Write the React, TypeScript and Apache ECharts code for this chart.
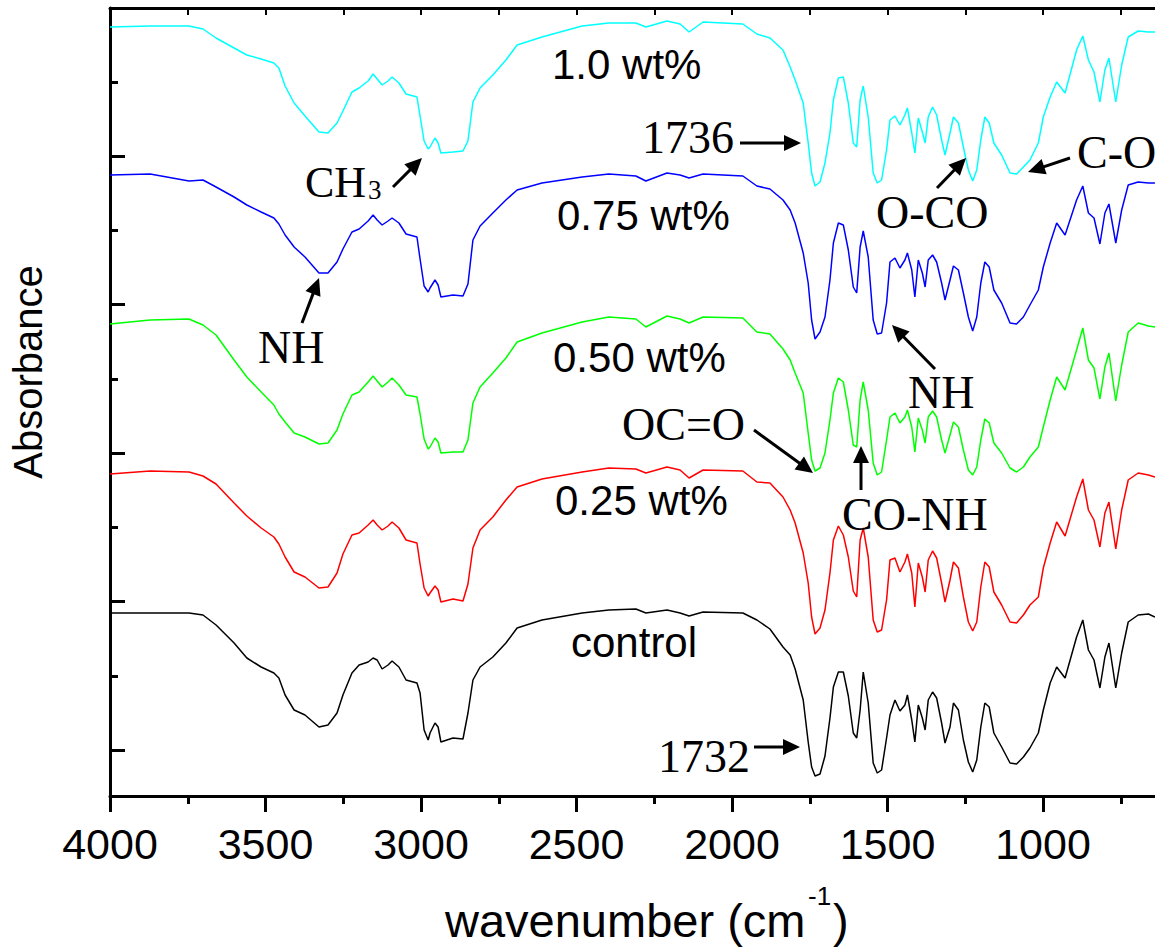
import React, { useEffect, useRef } from "react";
import * as echarts from "echarts";

// Shared wavenumber grid (cm^-1)
const wavenumbers = [
  4000, 3871, 3746, 3701, 3659, 3601, 3560, 3514, 3473, 3457,
  3437, 3408, 3373, 3328, 3299, 3270, 3251, 3222, 3199, 3170,
  3154, 3141, 3125, 3106, 3093, 3071, 3048, 3013, 3003, 2990,
  2977, 2971, 2955, 2945, 2936, 2897, 2865, 2849, 2833, 2810,
  2769, 2727, 2691, 2611, 2482, 2396, 2309, 2277, 2209, 2167,
  2138, 2093, 1965, 1920, 1878, 1836,
  1813, 1797, 1771, 1755, 1744, 1733, 1717, 1701, 1685, 1674,
  1658, 1642, 1626, 1610, 1599, 1588, 1578, 1562, 1546, 1533,
  1519, 1503, 1492, 1476, 1460, 1444, 1436, 1422, 1412, 1401,
  1388, 1379, 1369, 1355, 1342, 1326, 1315, 1299, 1288, 1272,
  1256, 1240, 1226, 1213, 1200, 1187, 1173, 1158, 1133, 1106,
  1085, 1063, 1042, 1015, 999, 977, 956, 929, 892, 872,
  854, 836, 817, 801, 788, 766, 747, 726, 694, 661,
  640,
];

// Absorbance (arbitrary units, traces offset for clarity)
const control = [
  183, 183, 183, 181, 171, 153, 138, 129, 123, 118,
  101, 86, 81, 69, 71, 83, 101, 123, 131, 134,
  138, 136, 127, 131, 135, 129, 116, 113, 103, 66,
  56, 63, 73, 69, 54, 58, 57, 83, 116, 129,
  139, 153, 168, 176, 183, 186, 187, 183, 186, 183,
  180, 184, 183, 176, 167, 149,
  141, 127, 96, 54, 29, 20, 22, 40, 78, 109,
  124, 124, 100, 63, 58, 86, 124, 93, 33, 23,
  26, 58, 81, 96, 85, 91, 101, 76, 54, 91,
  78, 66, 96, 104, 98, 73, 53, 69, 93, 86,
  56, 34, 24, 36, 69, 93, 89, 63, 49, 33,
  32, 39, 48, 63, 86, 113, 129, 118, 159, 176,
  146, 136, 108, 139, 153, 108, 143, 174, 181, 182,
  179,
];

const wt025 = [
  322, 325, 324, 320, 312, 293, 280, 268, 259, 252,
  239, 224, 219, 208, 209, 223, 242, 261, 263, 271,
  276, 271, 266, 270, 274, 268, 256, 253, 232, 208,
  200, 203, 210, 206, 194, 197, 195, 212, 248, 266,
  279, 296, 309, 317, 324, 328, 327, 323, 329, 326,
  318, 326, 325, 314, 313, 299,
  286, 273, 243, 213, 179, 162, 168, 186, 223, 256,
  270, 261, 239, 205, 199, 256, 268, 239, 176, 164,
  166, 196, 236, 238, 224, 234, 242, 223, 189, 233,
  219, 204, 236, 245, 238, 213, 194, 216, 234, 228,
  199, 174, 165, 174, 209, 234, 229, 204, 191, 174,
  173, 181, 191, 199, 228, 253, 274, 260, 299, 317,
  286, 276, 249, 283, 294, 247, 286, 316, 323, 321,
  319,
];

const wt050 = [
  472, 476, 477, 471, 461, 436, 419, 404, 391, 382,
  374, 363, 359, 352, 353, 366, 382, 401, 404, 414,
  420, 415, 409, 414, 418, 411, 401, 399, 382, 357,
  347, 349, 358, 354, 343, 344, 344, 356, 393, 409,
  423, 438, 454, 463, 474, 479, 477, 469, 480, 477,
  473, 479, 478, 464, 462, 447,
  436, 423, 403, 363, 336, 325, 328, 343, 376, 403,
  418, 414, 386, 351, 349, 396, 414, 386, 333, 321,
  324, 356, 379, 383, 373, 379, 386, 369, 344, 378,
  366, 353, 379, 385, 379, 356, 343, 361, 374, 369,
  346, 326, 321, 329, 356, 377, 373, 353, 343, 328,
  324, 329, 339, 349, 369, 396, 419, 406, 446, 468,
  436, 428, 397, 429, 443, 395, 431, 464, 473, 470,
  469,
];

const wt075 = [
  621, 622, 615, 616, 609, 599, 591, 584, 578, 572,
  561, 549, 539, 523, 523, 534, 547, 564, 567, 575,
  581, 576, 571, 575, 578, 573, 562, 559, 537, 510,
  504, 508, 516, 511, 499, 501, 500, 512, 556, 570,
  583, 596, 606, 613, 619, 622, 620, 615, 623, 621,
  618, 622, 620, 610, 607, 596,
  586, 573, 543, 513, 476, 457, 464, 479, 516, 553,
  573, 571, 546, 509, 503, 549, 565, 539, 476, 462,
  463, 493, 534, 538, 528, 536, 543, 526, 499, 536,
  523, 509, 536, 541, 534, 513, 496, 516, 530, 526,
  503, 479, 465, 479, 513, 534, 529, 506, 493, 473,
  472, 479, 491, 506, 529, 553, 573, 561, 596, 610,
  583, 578, 552, 583, 592, 553, 586, 611, 614, 613,
  613,
];

const wt100 = [
  769, 770, 770, 767, 758, 748, 741, 737, 733, 728,
  710, 693, 680, 664, 663, 673, 685, 704, 708, 715,
  722, 717, 711, 715, 719, 713, 702, 699, 680, 655,
  647, 649, 658, 653, 643, 644, 645, 655, 694, 708,
  721, 736, 751, 759, 770, 773, 773, 769, 775, 772,
  764, 774, 772, 762, 758, 746,
  729, 716, 693, 653, 623, 610, 614, 633, 663, 696,
  718, 719, 693, 653, 649, 696, 710, 679, 623, 613,
  616, 646, 676, 680, 671, 681, 688, 663, 643, 678,
  664, 653, 679, 689, 681, 656, 641, 663, 679, 673,
  649, 626, 615, 626, 656, 679, 673, 653, 641, 623,
  622, 629, 636, 653, 679, 699, 714, 703, 746, 760,
  736, 724, 694, 726, 738, 694, 731, 759, 765, 764,
  764,
];

const seriesNames = ["control", "0.25 wt%", "0.50 wt%", "0.75 wt%", "1.0 wt%"];
const seriesValues = [control, wt025, wt050, wt075, wt100];
const seriesColors = ["#000000", "#ff0000", "#00ff00", "#0000ff", "#00ffff"];

// y axis tick positions (no labels on the original)
const yMajorTicks = [46, 194.5, 343, 491.5, 640];
const yMinorTicks = [120.25, 268.75, 417.25, 565.75, 714.25];

const SANS = "'Liberation Sans', Arial, Helvetica, sans-serif";
const SERIF = "'Liberation Serif', 'Times New Roman', Times, serif";

// Annotation texts: [text, left x, center y]
const sampleLabels: [string, number, number][] = [
  ["1.0 wt%", 552, 64],
  ["0.75 wt%", 557, 215],
  ["0.50 wt%", 553, 357],
  ["0.25 wt%", 555, 500],
  ["control", 571, 642],
];
// [text, left x, center y, font size]
const bandLabels: [string, number, number, number][] = [
  ["1736", 642, 137.5, 46],
  ["CH", 305, 182, 44],
  ["3", 368, 190, 27],
  ["NH", 258, 347.5, 46],
  ["O-CO", 876, 212.5, 46],
  ["C-O", 1077, 152.5, 46],
  ["NH", 908, 392.5, 46],
  ["OC=O", 622, 424.5, 46],
  ["CO-NH", 842, 514.5, 46],
  ["1732", 658, 756.5, 46],
];
// Arrows: [x1, y1, x2(tip), y2(tip)]
const arrows: [number, number, number, number][] = [
  [740, 143, 801, 143],
  [393, 187, 422, 158],
  [302, 323, 319, 278],
  [937, 188, 966, 158],
  [1070, 158, 1028, 172],
  [935, 369, 892, 325],
  [754, 430, 813, 473],
  [861, 490, 861, 446],
  [754, 747, 800, 747],
];

function arrowEls(x1: number, y1: number, x2: number, y2: number) {
  const dx = x2 - x1;
  const dy = y2 - y1;
  const len = Math.hypot(dx, dy);
  const ux = dx / len;
  const uy = dy / len;
  const hl = 17;
  const hw = 8;
  const bx = x2 - ux * hl;
  const by = y2 - uy * hl;
  return [
    {
      type: "line",
      shape: { x1, y1, x2: bx + ux * 3, y2: by + uy * 3 },
      style: { stroke: "#000", lineWidth: 3 },
      z: 100,
    },
    {
      type: "polygon",
      shape: {
        points: [
          [x2, y2],
          [bx - uy * hw, by + ux * hw],
          [bx + uy * hw, by - ux * hw],
        ],
      },
      style: { fill: "#000" },
      z: 100,
    },
  ];
}

function textEl(text: string, x: number, y: number, size: number, family: string, extra: any = {}) {
  return {
    type: "text",
    x,
    y,
    z: 100,
    ...extra,
    style: {
      text,
      fontSize: size,
      fontFamily: family,
      fill: "#000",
      align: extra.align || "left",
      verticalAlign: "middle",
    },
  };
}

export default function App() {
  const ref = useRef<HTMLDivElement>(null);

  useEffect(() => {
    if (!ref.current) return;
    const chart = echarts.init(ref.current, null, { renderer: "svg" });

    const graphics: any[] = [];
    sampleLabels.forEach(([t, x, y]) => graphics.push(textEl(t, x, y, 42, SANS)));
    bandLabels.forEach(([t, x, y, s]) => graphics.push(textEl(t, x, y, s, SERIF)));
    arrows.forEach(([a, b, c, d]) => graphics.push(...arrowEls(a, b, c, d)));
    graphics.push(textEl("wavenumber (cm", 445, 920, 47, SANS));
    graphics.push(textEl("-1", 808, 896, 26, SANS));
    graphics.push(textEl(")", 833, 920, 47, SANS));
    graphics.push(
      textEl("Absorbance", 28, 372, 40, SANS, { rotation: Math.PI / 2, align: "center" })
    );

    const axisColor = "#000";
    chart.setOption({
      animation: false,
      backgroundColor: "#fff",
      grid: {
        left: 110,
        top: 8,
        width: 1088.5,
        height: 788,
        containLabel: false,
        outerBoundsMode: "none",
      },
      xAxis: [
        {
          type: "value",
          position: "bottom",
          min: 500,
          max: 4000,
          interval: 500,
          inverse: true,
          axisLine: { show: true, onZero: false, lineStyle: { color: axisColor, width: 3 } },
          axisTick: { show: true, inside: false, length: 16, lineStyle: { color: axisColor, width: 3 } },
          minorTick: { show: true, splitNumber: 2, length: 8, lineStyle: { color: axisColor, width: 3 } },
          axisLabel: {
            show: true,
            fontSize: 43,
            fontFamily: SANS,
            color: "#000",
            margin: 26,
            showMinLabel: true,
            showMaxLabel: true,
            formatter: (v: number) => (v < 1000 ? "" : String(v)),
          },
          splitLine: { show: false },
          minorSplitLine: { show: false },
        },
        {
          type: "value",
          position: "top",
          min: 500,
          max: 4000,
          interval: 250,
          inverse: true,
          axisLine: { show: true, onZero: false, lineStyle: { color: axisColor, width: 3 } },
          axisTick: { show: true, inside: true, length: 7, lineStyle: { color: axisColor, width: 2 } },
          axisLabel: { show: false },
          splitLine: { show: false },
        },
      ],
      yAxis: [
        {
          type: "value",
          position: "left",
          min: 0,
          max: 788,
          axisLine: { show: true, onZero: false, lineStyle: { color: axisColor, width: 3 } },
          axisTick: {
            show: true,
            inside: true,
            length: 15,
            customValues: yMajorTicks,
            lineStyle: { color: axisColor, width: 3 },
          },
          axisLabel: { show: false },
          splitLine: { show: false },
        },
        {
          type: "value",
          position: "left",
          min: 0,
          max: 788,
          axisLine: { show: false },
          axisTick: {
            show: true,
            inside: true,
            length: 8,
            customValues: yMinorTicks,
            lineStyle: { color: axisColor, width: 3 },
          },
          axisLabel: { show: false },
          splitLine: { show: false },
        },
      ],
      series: seriesValues.map((vals, i) => ({
        name: seriesNames[i],
        type: "line",
        xAxisIndex: 0,
        yAxisIndex: 0,
        showSymbol: false,
        symbol: "none",
        silent: true,
        clip: true,
        lineStyle: { color: seriesColors[i], width: 1.5 },
        itemStyle: { color: seriesColors[i] },
        data: wavenumbers.map((w, j) => [w, vals[j]]),
      })),
      graphic: graphics,
    });

    return () => chart.dispose();
  }, []);

  return (
    <div
      ref={ref}
      style={{ position: "absolute", left: 0, top: 0, width: 1155, height: 949, background: "#fff" }}
    />
  );
}
